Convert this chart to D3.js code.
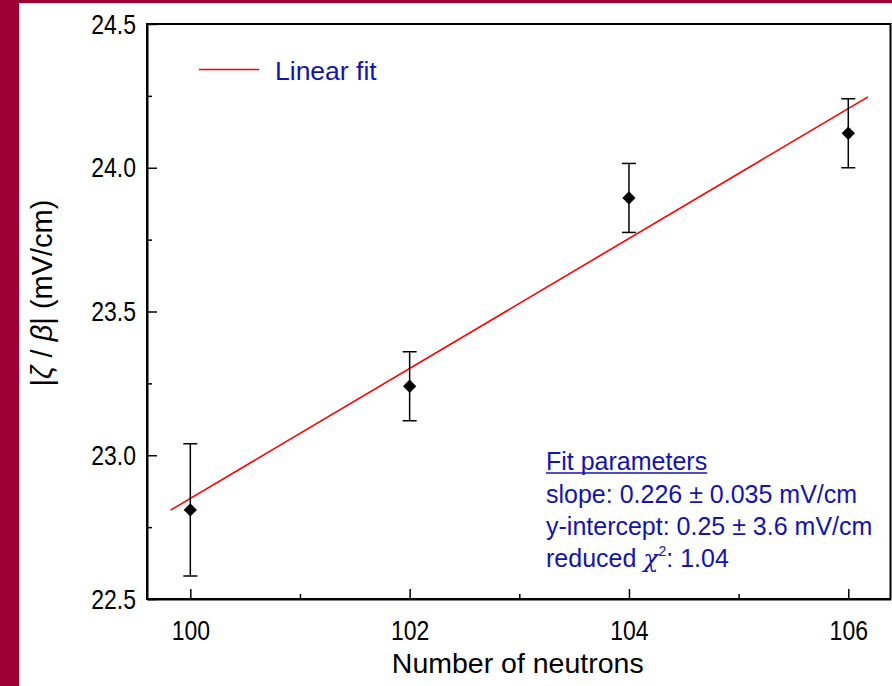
<!DOCTYPE html>
<html>
<head>
<meta charset="utf-8">
<script src="https://cdn.jsdelivr.net/npm/d3@7"></script>
<style>
  html, body { margin: 0; padding: 0; background: #fff; }
  svg { display: block; }
  text { font-family: "Liberation Sans", Arial, sans-serif; }
</style>
</head>
<body>
<svg id="chart" width="892" height="686"></svg>
<script>
// ---- data ----
const neutrons = [100, 102, 104, 106];
const zetaBeta = [22.81, 23.24, 23.895, 24.12];
const errors = [0.23, 0.12, 0.12, 0.12];
const xTicks = [100, 102, 104, 106];
const xMinorTicks = [101, 103, 105];
const yTicks = [22.5, 23.0, 23.5, 24.0, 24.5];
const yMinorTicks = [22.75, 23.25, 23.75, 24.25];
const fitSlope = 0.226;
const fitIntercept = 0.25;
const fitRange = [99.82, 106.18];
const fitLines = [
  "slope: 0.226 \u00b1 0.035 mV/cm",
  "y-intercept: 0.25 \u00b1 3.6 mV/cm"
];

const svg = d3.select("#chart");
const W = 892, H = 686;
const maroon = "#9c0035";
const blue = "#1414a8";
const stretch = 1.18;

// background and maroon frame
svg.append("rect").attr("x", 0).attr("y", 0).attr("width", W).attr("height", H).attr("fill", maroon);
svg.append("rect").attr("x", 19).attr("y", 3).attr("width", W - 19).attr("height", H - 3).attr("fill", "#f7d9e3");
svg.append("rect").attr("x", 20).attr("y", 4).attr("width", W - 20).attr("height", H - 4).attr("fill", "#ffffff");

const plot = { left: 147, top: 24, right: 890.5, bottom: 599 };

const x = d3.scaleLinear().domain([99.605, 106.385]).range([plot.left, plot.right]);
const y = d3.scaleLinear().domain([22.5, 24.5]).range([plot.bottom, plot.top]);

// frame
svg.append("rect")
  .attr("x", plot.left).attr("y", plot.top)
  .attr("width", plot.right - plot.left).attr("height", plot.bottom - plot.top)
  .attr("fill", "none").attr("stroke", "#000").attr("stroke-width", 2);

// x axis
const xAxis = svg.append("g")
  .attr("transform", `translate(0,${plot.bottom})`)
  .call(d3.axisBottom(x).tickValues(xTicks).tickFormat(d3.format("d"))
    .tickSizeInner(-10).tickSizeOuter(0).tickPadding(19));
xAxis.select(".domain").attr("stroke-width", 2);
xAxis.selectAll(".tick line").attr("stroke-width", 1.5);
xAxis.selectAll(".tick text").attr("font-size", 23).attr("fill", "#000")
  .attr("font-family", "Liberation Sans, Arial, sans-serif")
  .attr("y", 0).attr("dy", 0)
  .attr("transform", `translate(0,41) scale(1,${stretch})`);

const xMinor = svg.append("g")
  .attr("transform", `translate(0,${plot.bottom})`)
  .call(d3.axisBottom(x).tickValues(xMinorTicks).tickFormat("").tickSizeInner(-5).tickSizeOuter(0));
xMinor.select(".domain").remove();
xMinor.selectAll(".tick line").attr("stroke-width", 1.5);

// y axis
const yAxis = svg.append("g")
  .attr("transform", `translate(${plot.left},0)`)
  .call(d3.axisLeft(y).tickValues(yTicks).tickFormat(d3.format(".1f"))
    .tickSizeInner(-10).tickSizeOuter(0).tickPadding(11));
yAxis.select(".domain").attr("stroke-width", 2);
yAxis.selectAll(".tick line").attr("stroke-width", 1.5);
yAxis.selectAll(".tick text").attr("font-size", 23).attr("fill", "#000")
  .attr("font-family", "Liberation Sans, Arial, sans-serif")
  .attr("x", 0).attr("dy", 0)
  .attr("transform", `translate(-11,9) scale(1,${stretch})`);

const yMinor = svg.append("g")
  .attr("transform", `translate(${plot.left},0)`)
  .call(d3.axisLeft(y).tickValues(yMinorTicks).tickFormat("").tickSizeInner(-5).tickSizeOuter(0));
yMinor.select(".domain").remove();
yMinor.selectAll(".tick line").attr("stroke-width", 1.5);

// axis titles
svg.append("text")
  .attr("x", (plot.left + plot.right) / 2 - 1).attr("y", 673)
  .attr("text-anchor", "middle").attr("font-size", 28.5).attr("fill", "#000")
  .text("Number of neutrons");

const yl = svg.append("text")
  .attr("transform", "translate(52,293) rotate(-90)")
  .attr("text-anchor", "middle").attr("font-size", 29).attr("fill", "#000");
yl.append("tspan").text("|");
yl.append("tspan").attr("font-style", "italic").text("\u03b6");
yl.append("tspan").text(" / ");
yl.append("tspan").attr("font-style", "italic").text("\u03b2");
yl.append("tspan").text("| (mV/cm)");

// fit line
const fitData = fitRange.map(v => ({ x: v, y: fitIntercept + fitSlope * v }));
svg.append("path")
  .datum(fitData)
  .attr("d", d3.line().x(d => x(d.x)).y(d => y(d.y)))
  .attr("fill", "none").attr("stroke", "#ff0000").attr("stroke-width", 1.6);

// error bars
const pts = neutrons.map((n, i) => ({ x: n, y: zetaBeta[i], e: errors[i] }));
const eb = svg.append("g").attr("stroke", "#000").attr("stroke-width", 1.5);
pts.forEach(d => {
  const cx = x(d.x);
  eb.append("line").attr("x1", cx).attr("x2", cx).attr("y1", y(d.y + d.e)).attr("y2", y(d.y - d.e));
  eb.append("line").attr("x1", cx - 7).attr("x2", cx + 7).attr("y1", y(d.y + d.e)).attr("y2", y(d.y + d.e));
  eb.append("line").attr("x1", cx - 7).attr("x2", cx + 7).attr("y1", y(d.y - d.e)).attr("y2", y(d.y - d.e));
});

// diamond markers
svg.append("g").selectAll("path").data(pts).join("path")
  .attr("d", d3.symbol().type(d3.symbolSquare).size(88))
  .attr("transform", d => `translate(${x(d.x)},${y(d.y)}) rotate(45)`)
  .attr("fill", "#000");

// legend
svg.append("line").attr("x1", 199).attr("x2", 259).attr("y1", 69.5).attr("y2", 69.5)
  .attr("stroke", "#ff0000").attr("stroke-width", 1.6);
svg.append("text").attr("x", 275).attr("y", 80).attr("font-size", 26.5).attr("fill", blue).text("Linear fit");

// fit parameters box
const fp = svg.append("g").attr("fill", blue).attr("font-size", 25);
const title = fp.append("text").attr("x", 546).attr("y", 470).text("Fit parameters");
fitLines.forEach((t, i) => {
  fp.append("text").attr("x", 546).attr("y", 503 + i * 32).text(t);
});
const red = fp.append("text").attr("x", 546).attr("y", 567);
red.append("tspan").text("reduced ");
red.append("tspan").attr("font-style", "italic").attr("font-family", "DejaVu Serif, serif").text("\u03c7");
red.append("tspan").attr("font-size", 14).attr("dy", -11).text("2");
red.append("tspan").attr("dy", 11).text(": 1.04");
// underline for title
const tb = title.node().getBBox();
fp.append("line").attr("x1", tb.x).attr("x2", tb.x + tb.width).attr("y1", 473).attr("y2", 473)
  .attr("stroke", blue).attr("stroke-width", 1.5);
</script>
</body>
</html>
